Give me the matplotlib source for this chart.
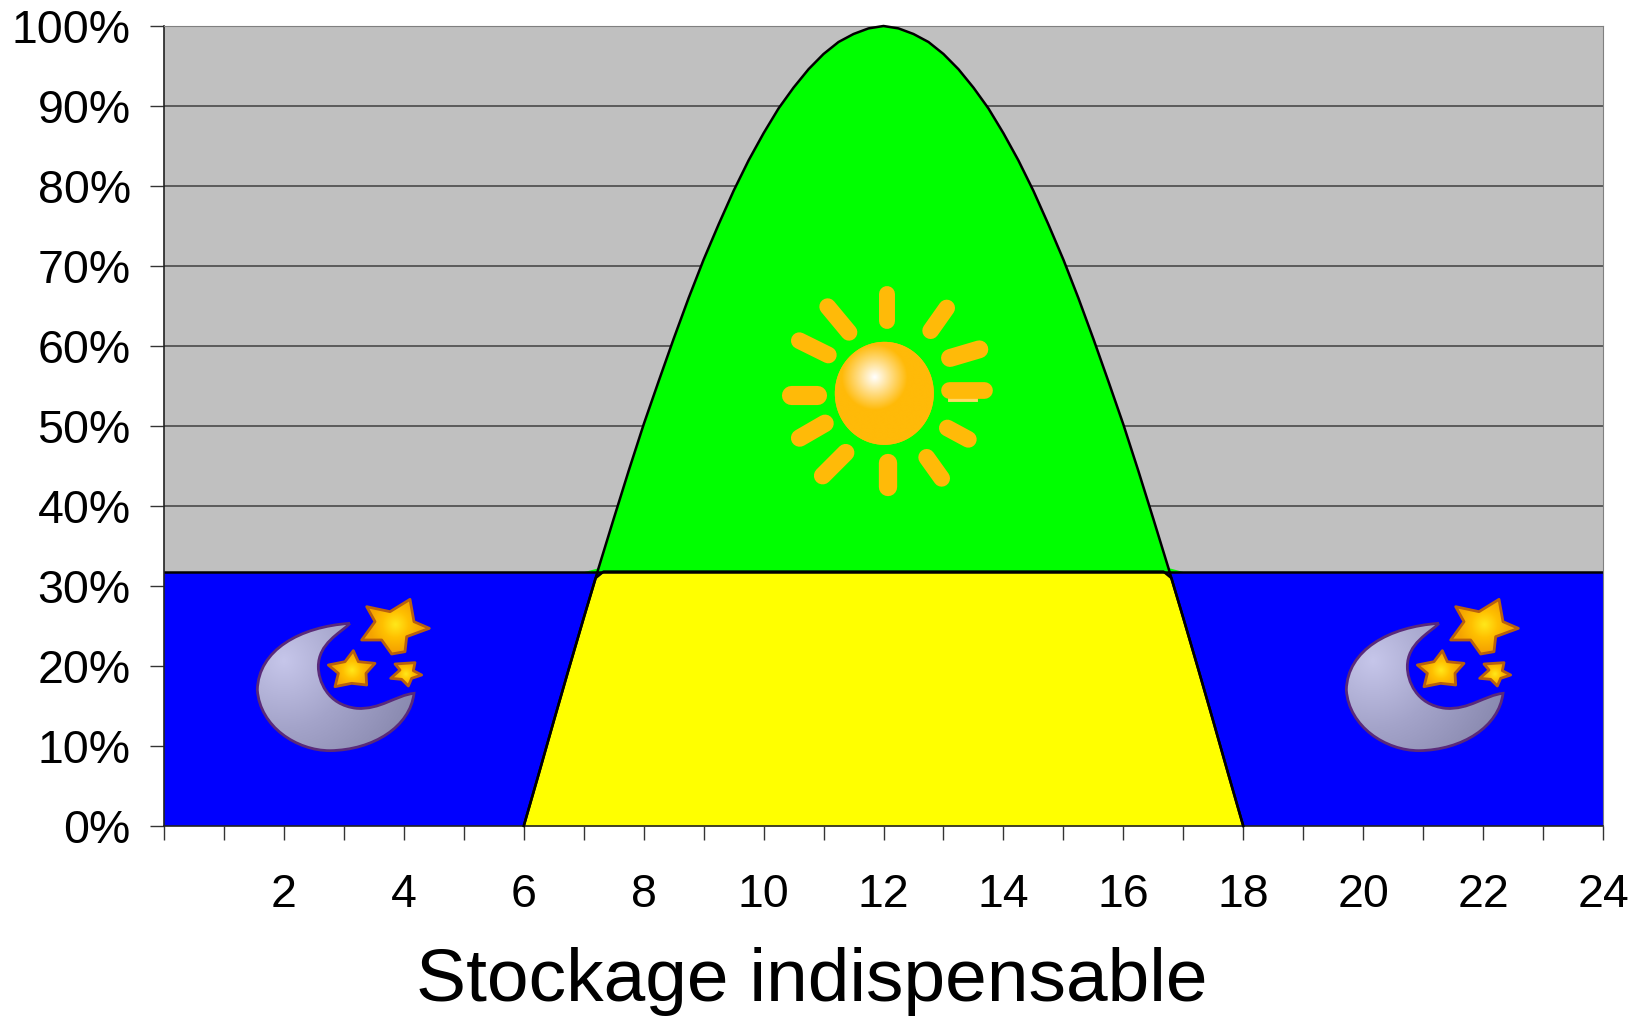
import numpy as np
import matplotlib
matplotlib.use('Agg')
import matplotlib.pyplot as plt
from matplotlib.path import Path
from matplotlib.patches import PathPatch, Polygon

plt.rcParams['font.family'] = ['Liberation Sans', 'DejaVu Sans']

# curves, percent of peak
hours = [6, 6.25, 6.5, 6.75, 7, 7.25, 7.5, 7.75, 8, 8.25, 8.5, 8.75, 9, 9.25, 9.5, 9.75,
         10, 10.25, 10.5, 10.75, 11, 11.25, 11.5, 11.75, 12,
         12.25, 12.5, 12.75, 13, 13.25, 13.5, 13.75, 14, 14.25, 14.5, 14.75, 15,
         15.25, 15.5, 15.75, 16, 16.25, 16.5, 16.75, 17, 17.25, 17.5, 17.75, 18]
sun_pct = [0, 6.5, 13.1, 19.6, 26, 32.3, 38.4, 44.4, 50.2, 55.6, 60.9, 66, 70.8, 75.2, 79.4, 83.2,
           86.6, 89.7, 92.3, 94.6, 96.5, 98, 99, 99.7, 100,
           99.7, 99, 98, 96.5, 94.6, 92.3, 89.7, 86.6, 83.2, 79.4, 75.2, 70.8,
           66, 60.9, 55.6, 50.2, 44.4, 38.4, 32.3, 26, 19.6, 13.1, 6.5, 0]
direct_hours = [6, 6.25, 6.5, 6.75, 7, 7.2, 7.33, 16.67, 16.8, 17, 17.25, 17.5, 17.75, 18]
direct_pct = [0, 6.5, 13.1, 19.6, 26, 31, 31.8, 31.8, 31, 26, 19.6, 13.1, 6.5, 0]
night_level = 31.8
night_hours = [0, 24]
night_pct = [31.8, 31.8]
y_ticks = [0, 10, 20, 30, 40, 50, 60, 70, 80, 90, 100]
x_ticks = [2, 4, 6, 8, 10, 12, 14, 16, 18, 20, 22, 24]
x_label = 'Stockage indispensable'

W, H = 1637, 1018
L, R, T, B = 164, 1603, 26, 826

fig = plt.figure(figsize=(W / 100, H / 100), dpi=100)
ax = fig.add_axes([L / W, 1 - B / H, (R - L) / W, (B - T) / H])

hours_a = np.array(hours, dtype=float)
sun_a = np.array(sun_pct, dtype=float)

ax.set_facecolor('#c0c0c0')
ax.yaxis.grid(True, color='#404040', lw=1.1)
ax.set_axisbelow(True)

ax.fill_between(night_hours, 0, night_pct, color='#0000ff', lw=0, zorder=2)
ax.fill_between(hours_a, night_level, np.maximum(sun_a, night_level), color='#00ff00', lw=0, zorder=3)
ax.fill_between(direct_hours, 0, direct_pct, color='#ffff00', lw=0, zorder=3)
ax.plot(night_hours, night_pct, color='black', lw=1.8, zorder=4)
ax.plot(direct_hours, direct_pct, color='black', lw=1.8, zorder=5)
ax.plot(hours_a, sun_a, color='black', lw=1.8, zorder=7, clip_on=False)

ax.set_xlim(0, 24)
ax.set_ylim(0, 100)
ax.set_xticks(range(0, 25))
ax.set_xticklabels(['' if h not in x_ticks else str(h) for h in range(0, 25)])
ax.set_yticks(y_ticks)
ax.set_yticklabels(['%d%%' % v for v in y_ticks])
ax.tick_params(axis='x', length=10, width=1, color='#333333', labelsize=33.5, pad=23.5)
ax.tick_params(axis='y', length=10, width=1, color='#333333', labelsize=33.5, pad=14)
for s in ['top', 'right']:
    ax.spines[s].set_color('#808080')
for s in ['left', 'bottom']:
    ax.spines[s].set_color('#222222')
    ax.spines[s].set_linewidth(1.2)
for s in ax.spines.values():
    s.set_zorder(6)

fig.text(812 / W, 1 - 982 / H, x_label, fontsize=54, ha='center', va='center', color='black')

# icons are pasted clipart, drawn on a pixel overlay
ov = fig.add_axes([0, 0, 1, 1], facecolor='none')
ov.set_xlim(0, W)
ov.set_ylim(H, 0)
ov.axis('off')


def grad_fill(patch, extent, func, cmap_pts, z=8):
    # gradient image clipped with a patch
    x0, x1, y0, y1 = extent
    xx, yy = np.meshgrid(np.linspace(x0, x1, 200), np.linspace(y0, y1, 200))
    t = np.clip(func(xx, yy), 0, 1)
    cmap = matplotlib.colors.LinearSegmentedColormap.from_list('g', cmap_pts)
    im = ov.imshow(t, extent=(x0, x1, y1, y0), cmap=cmap, vmin=0, vmax=1, zorder=z, aspect='auto')
    im.set_clip_path(patch)
    ov.set_xlim(0, W)
    ov.set_ylim(H, 0)


def draw_sun():
    sx = lambda v: 760 + v / 3
    sy = lambda v: 270 + v / 3
    rays = [((380, 72), (380, 152), 40), ((560, 114), (512, 182), 42), ((658, 238), (570, 264), 45),
            ((672, 360), (568, 360), 42), ((625, 508), (562, 474), 42), ((545, 625), (500, 562), 42),
            ((384, 652), (384, 578), 46), ((257, 548), (188, 617), 44), ((195, 460), (119, 504), 44),
            ((170, 375), (92, 375), 48), ((205, 255), (118, 212), 42), ((267, 187), (203, 110), 42)]
    for a, b, w in rays:
        ov.plot([sx(a[0]), sx(b[0])], [sy(a[1]), sy(b[1])], color='#ffba08', lw=w / 3 * 0.86,
                solid_capstyle='round', zorder=7)
    ov.plot([sx(570), sx(645)], [sy(386), sy(386)], color='#ffd966', lw=3.5, zorder=6.9)
    ov.plot([sx(112), sx(178)], [sy(400), sy(400)], color='#ffd966', lw=1.5, zorder=6.9)
    theta = np.linspace(0, 2 * np.pi, 100)
    cx, cy = sx(373), sy(370)
    circ = Polygon(np.c_[cx + 49.5 * np.cos(theta), cy + 51.5 * np.sin(theta)], closed=True,
                   fc='#ffba08', ec='none', zorder=8)
    ov.add_patch(circ)
    grad_fill(circ, (cx - 52, cx + 52, cy - 54, cy + 54),
              lambda x, y: np.hypot(x - sx(345), y - sy(322)) / 33,
              ['#ffffff', '#ffdc82', '#ffba08'], z=9)


def draw_moon(dx):
    mx = lambda v: 240 + dx + v / 3
    my = lambda v: 580 + v / 3
    pts = [(330, 130), (180, 140), (55, 210), (52, 330), (60, 440), (170, 512), (270, 512),
           (400, 510), (510, 440), (522, 340), (470, 345), (420, 390), (350, 385),
           (260, 375), (235, 300), (235, 260), (235, 190), (300, 160), (330, 130)]
    codes = [Path.MOVETO] + [Path.CURVE4] * 18
    p = Path([(mx(a), my(b)) for a, b in pts], codes)
    moon = PathPatch(p, fc='#9c9cc4', ec='none', zorder=8)
    ov.add_patch(moon)
    x0, x1, y0, y1 = mx(50), mx(525), my(125), my(515)
    grad_fill(moon, (x0, x1, y0, y1),
              lambda x, y: np.hypot(x - mx(130), y - my(240)) / 135,
              ['#c6c6ea', '#a4a4ca', '#8a8ab0'], z=9)
    ov.add_patch(PathPatch(p, fc='none', ec='#5a2a7a', lw=2, zorder=10))
    stars = [
        ([(380, 80), (450, 95), (510, 58), (522, 125), (568, 145), (500, 170), (495, 215),
          (455, 222), (425, 180), (365, 180), (405, 125)], (465, 135), 80),
        ([(340, 212), (355, 245), (405, 250), (378, 280), (380, 315), (335, 310), (285, 320),
          (295, 280), (265, 255), (315, 245)], (335, 270), 55),
        ([(495, 250), (525, 248), (520, 272), (545, 285), (515, 295), (505, 318), (485, 298),
          (452, 295), (480, 270), (465, 252)], (497, 283), 40),
    ]
    for star, c, rad in stars:
        poly = [(mx(a), my(b)) for a, b in star]
        sp = Polygon(poly, closed=True, fc='#ffc000', ec='none', zorder=8)
        ov.add_patch(sp)
        cx, cy = mx(c[0]), my(c[1])
        r = rad / 3
        grad_fill(sp, (cx - 2 * r, cx + 2 * r, cy - 2 * r, cy + 2 * r),
                  lambda x, y: np.hypot(x - cx, y - cy) / r,
                  ['#ffe81a', '#ffc000', '#f5a300'], z=9)
        ov.add_patch(Polygon(poly, closed=True, fc='none', ec='#b8600f', lw=2,
                             joinstyle='round', zorder=10))


draw_sun()
draw_moon(0)
draw_moon(1089)

fig.savefig('out.png', dpi=100)
